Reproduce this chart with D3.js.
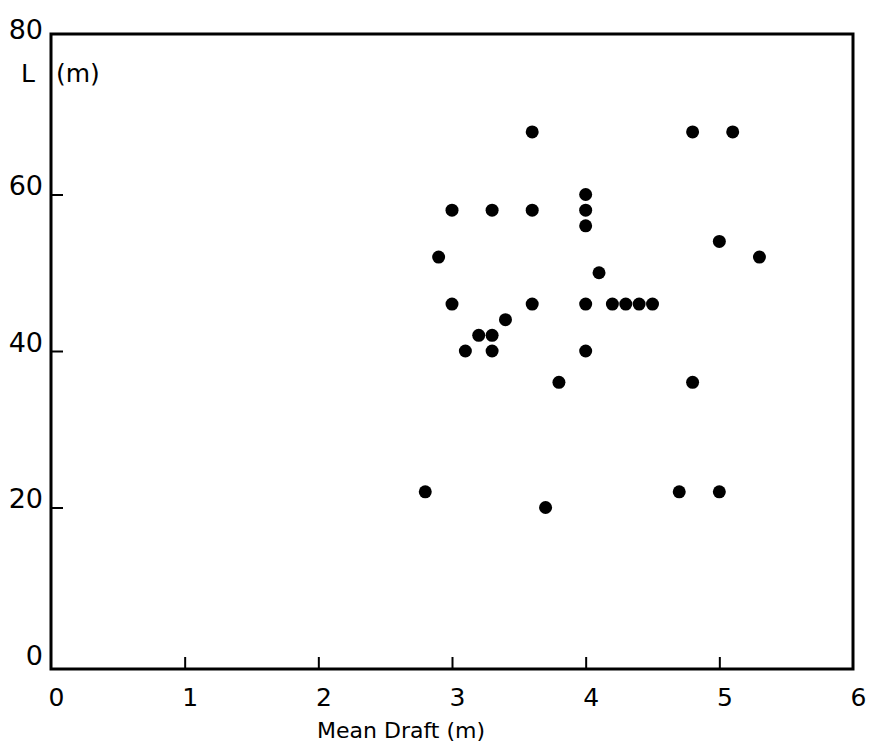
<!DOCTYPE html>
<html>
<head>
<meta charset="utf-8">
<script src="https://cdn.jsdelivr.net/npm/d3@7"></script>
<style>
  body { margin: 0; background: #fff; }
  svg { display: block; }
  text { font-family: "DejaVu Sans", sans-serif; fill: #000; }
</style>
</head>
<body>
<svg width="872" height="755"></svg>
<script>
// mean draft (m) vs L (m)
var draft = [3.6, 4.8, 5.1, 3.0, 3.3, 3.6, 4.0, 4.0, 4.0, 5.0, 2.9, 5.3, 4.1,
             3.0, 3.6, 4.0, 4.2, 4.3, 4.4, 4.5, 3.4, 3.2, 3.3, 3.1, 3.3, 4.0,
             3.8, 4.8, 2.8, 4.7, 5.0, 3.7];
var length = [68, 68, 68, 58, 58, 58, 60, 58, 56, 54, 52, 52, 50,
              46, 46, 46, 46, 46, 46, 46, 44, 42, 42, 40, 40, 40,
              36, 36, 22, 22, 22, 20];
var xTicks = [0, 1, 2, 3, 4, 5, 6];
var yTicks = [0, 20, 40, 60, 80];

var svg = d3.select("svg");
var x = d3.scaleLinear().domain([0, 6]).range([51, 853]);
var y = d3.scaleLinear().domain([0, 80]).range([664, 38]);

// frame
svg.append("rect")
  .attr("x", x(0)).attr("y", y(80) - 4)
  .attr("width", x(6) - x(0)).attr("height", y(0) - y(80) + 9)
  .attr("fill", "none").attr("stroke", "#000").attr("stroke-width", 3);

// x axis, ticks pointing inwards
var xa = svg.append("g")
  .attr("transform", "translate(0," + (y(0) + 5) + ")")
  .call(d3.axisBottom(x).tickValues(xTicks).tickFormat(d3.format("d"))
    .tickSizeInner(-12).tickSizeOuter(0).tickPadding(19));
xa.select(".domain").remove();
xa.selectAll(".tick line").attr("stroke", "#000").attr("stroke-width", 2)
  .filter(function(d) { return d == 0 || d == 6; }).remove();
xa.selectAll(".tick text").attr("font-size", 25).attr("dx", 5)
  .attr("font-family", "DejaVu Sans");

// y axis
var ya = svg.append("g")
  .attr("transform", "translate(" + x(0) + ",0)")
  .call(d3.axisLeft(y).tickValues(yTicks).tickFormat(d3.format("d"))
    .tickSizeInner(-12).tickSizeOuter(0).tickPadding(8));
ya.select(".domain").remove();
ya.selectAll(".tick line").attr("stroke", "#000").attr("stroke-width", 2)
  .filter(function(d) { return d == 0 || d == 80; }).remove();
ya.selectAll(".tick text").attr("font-size", 27).attr("dy", "0")
  .attr("font-family", "DejaVu Sans");

svg.append("text").attr("x", 401).attr("y", 738)
  .attr("text-anchor", "middle").attr("font-size", 22)
  .text("Mean Draft (m)");
svg.append("text").attr("x", 21).attr("y", 82)
  .attr("font-size", 25).text("L");
svg.append("text").attr("x", 56).attr("y", 82)
  .attr("font-size", 25).text("(m)");

svg.append("g").selectAll("circle")
  .data(draft)
  .enter().append("circle")
  .attr("cx", function(d) { return x(d); })
  .attr("cy", function(d, i) { return y(length[i]); })
  .attr("r", 6.5)
  .attr("fill", "#000");
</script>
</body>
</html>
